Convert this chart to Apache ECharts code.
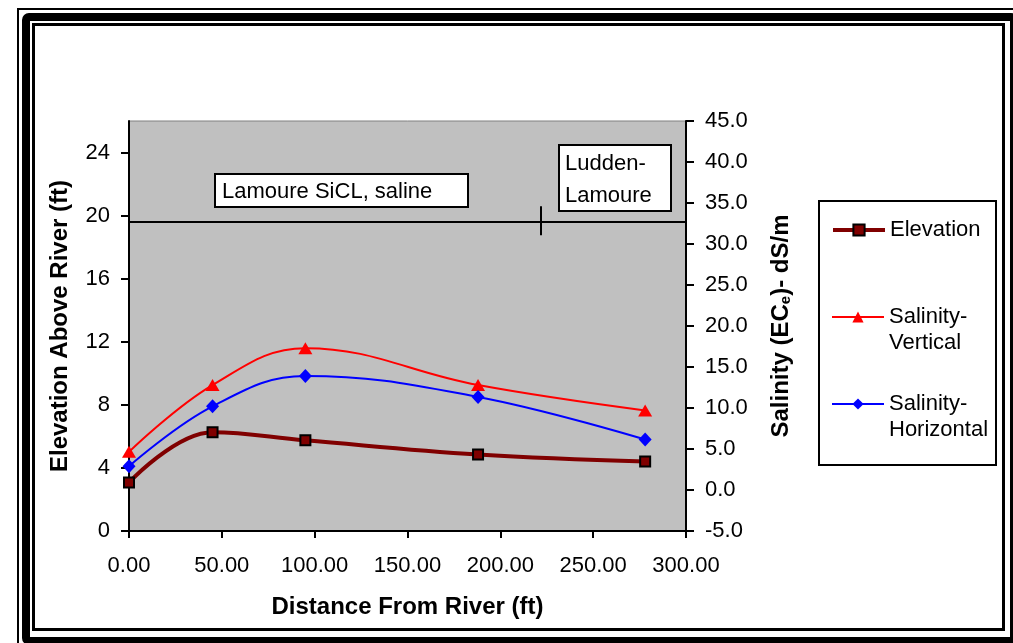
<!DOCTYPE html>
<html><head><meta charset="utf-8">
<script src="https://cdn.jsdelivr.net/npm/echarts@6/dist/echarts.min.js"></script>
<style>html,body{margin:0;padding:0;background:#fff}#c{width:1013px;height:643px}</style>
</head><body><div id="c"></div>
<script>
// ---- data ----
const distance = [0, 45, 95, 188, 278];
const elevation = [3.07, 6.27, 5.75, 4.85, 4.40];
const salinityVertical = [4.65, 12.8, 17.3, 12.8, 9.7];
const salinityHorizontal = [2.9, 10.2, 13.9, 11.35, 6.15];
const xTicks = [0, 50, 100, 150, 200, 250, 300];
const leftTicks = [0, 4, 8, 12, 16, 20, 24];
const rightTicks = [-5, 0, 5, 10, 15, 20, 25, 30, 35, 40, 45];
const boundaryElevation = 19.6;
const boundaryDistance = 222;
const boundaryTickSpan = [18.75, 20.6];
const unitLabels = ['Lamoure SiCL, saline', 'Ludden-\nLamoure'];
const seriesNames = ['Elevation', 'Salinity-\nVertical', 'Salinity-\nHorizontal'];

const FONT = "'Liberation Sans', Arial, sans-serif";
const chart = echarts.init(document.getElementById('c'), null, {renderer: 'canvas'});

function pairs(xs, ys) { return xs.map((x, i) => [x, ys[i]]); }

const legendBase = {
  orient: 'vertical', left: 831, padding: 0, itemWidth: 52, itemHeight: 14,
  textStyle: {fontFamily: FONT, fontSize: 22, color: '#000', lineHeight: 26}
};
const titleStyle = {color: '#000', fontFamily: FONT, fontSize: 24, fontWeight: 'bold'};

const option = {
  animation: false,
  backgroundColor: '#fff',
  grid: {left: 129, right: 327, top: 121, bottom: 112, show: true,
         backgroundColor: '#C0C0C0', borderColor: '#808080', borderWidth: 1,
         outerBoundsMode: 'none', containLabel: false},
  xAxis: {
    type: 'value', min: xTicks[0], max: xTicks[xTicks.length - 1], interval: 50,
    splitLine: {show: false},
    axisLine: {show: true, onZero: false, lineStyle: {color: '#000', width: 2}},
    axisTick: {show: true, length: 7, lineStyle: {color: '#000', width: 2}},
    axisLabel: {color: '#000', fontFamily: FONT, fontSize: 22, margin: 24,
                formatter: v => v.toFixed(2)},
    name: 'Distance From River (ft)', nameLocation: 'middle', nameGap: 64,
    nameTextStyle: titleStyle
  },
  yAxis: [{
    type: 'value', min: 0, max: 26, interval: 4, position: 'left',
    splitLine: {show: false},
    axisLine: {show: true, onZero: false, lineStyle: {color: '#000', width: 2}},
    axisTick: {show: true, length: 8, customValues: leftTicks, lineStyle: {color: '#000', width: 2}},
    axisLabel: {color: '#000', fontFamily: FONT, fontSize: 22, margin: 19, customValues: leftTicks},
    name: 'Elevation Above River (ft)', nameLocation: 'middle', nameGap: 57, nameRotate: 90,
    nameTextStyle: titleStyle
  }, {
    type: 'value', min: rightTicks[0], max: rightTicks[rightTicks.length - 1], interval: 5, position: 'right',
    splitLine: {show: false},
    axisLine: {show: true, onZero: false, lineStyle: {color: '#000', width: 2}},
    axisTick: {show: true, length: 8, lineStyle: {color: '#000', width: 2}},
    axisLabel: {color: '#000', fontFamily: FONT, fontSize: 22, margin: 19, formatter: v => v.toFixed(1)},
    name: 'Salinity (EC{sub|e})- dS/m', nameLocation: 'middle', nameGap: 83, nameRotate: 90,
    nameTextStyle: Object.assign({}, titleStyle, {
      rich: {sub: {fontFamily: FONT, fontSize: 15, fontWeight: 'bold', color: '#000', verticalAlign: 'bottom', padding: [9, 0, 0, 0]}}})
  }],
  legend: [
    Object.assign({}, legendBase, {data: [seriesNames[0]], top: 217, lineStyle: {width: 4}}),
    Object.assign({}, legendBase, {data: [seriesNames[1]], top: 278, formatter: n => '\n' + n}),
    Object.assign({}, legendBase, {data: [seriesNames[2]], top: 365, formatter: n => '\n' + n})
  ],
  series: [{
    name: seriesNames[0], type: 'line', yAxisIndex: 0, smooth: 0.4,
    data: pairs(distance, elevation),
    symbol: 'rect', symbolSize: 10,
    lineStyle: {color: '#800000', width: 4},
    itemStyle: {color: '#800000', borderColor: '#000', borderWidth: 2},
    z: 3,
    markLine: {
      silent: true, symbol: 'none', animation: false,
      label: {show: false},
      lineStyle: {color: '#000', width: 2, type: 'solid'},
      data: [
        {yAxis: boundaryElevation},
        [{coord: [boundaryDistance, boundaryTickSpan[0]]}, {coord: [boundaryDistance, boundaryTickSpan[1]]}]
      ]
    }
  }, {
    name: seriesNames[1], type: 'line', yAxisIndex: 1, smooth: 0.4,
    data: pairs(distance, salinityVertical),
    symbol: 'triangle', symbolSize: [14, 12],
    lineStyle: {color: '#FF0000', width: 2},
    itemStyle: {color: '#FF0000'},
    z: 4
  }, {
    name: seriesNames[2], type: 'line', yAxisIndex: 1, smooth: 0.4,
    data: pairs(distance, salinityHorizontal),
    symbol: 'diamond', symbolSize: [13, 14],
    lineStyle: {color: '#0000FF', width: 2},
    itemStyle: {color: '#0000FF'},
    z: 4
  }],
  graphic: [
    // frame
    {type: 'rect', shape: {x: 18, y: 9, width: 1200, height: 1000}, style: {fill: 'none', stroke: '#000', lineWidth: 2}, z: 100},
    {type: 'rect', shape: {x: 26, y: 17, width: 988, height: 624, r: 3}, style: {fill: 'none', stroke: '#000', lineWidth: 8}, z: 100},
    {type: 'rect', shape: {x: 33.5, y: 24.5, width: 970, height: 605}, style: {fill: 'none', stroke: '#000', lineWidth: 3}, z: 100},
    // legend box
    {type: 'rect', shape: {x: 819, y: 201, width: 177, height: 264}, style: {fill: '#fff', stroke: '#000', lineWidth: 2}, z: -1},
    // text boxes
    {type: 'rect', shape: {x: 215, y: 174, width: 253, height: 33}, style: {fill: '#fff', stroke: '#000', lineWidth: 2}, z: 50},
    {type: 'text', x: 222, y: 192, style: {text: unitLabels[0], fontFamily: FONT, fontSize: 22, fill: '#000', verticalAlign: 'middle'}, z: 51},
    {type: 'rect', shape: {x: 559, y: 145, width: 112, height: 66}, style: {fill: '#fff', stroke: '#000', lineWidth: 2}, z: 50},
    {type: 'text', x: 565, y: 180, style: {text: unitLabels[1], fontFamily: FONT, fontSize: 22, lineHeight: 32, fill: '#000', verticalAlign: 'middle'}, z: 51}
  ]
};
chart.setOption(option);
</script>
</body></html>
